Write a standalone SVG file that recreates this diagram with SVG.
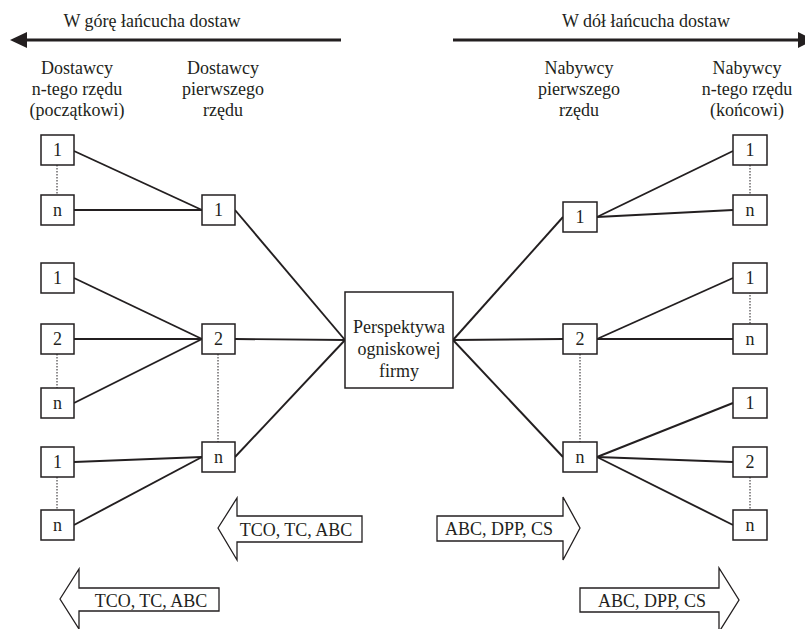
<svg xmlns="http://www.w3.org/2000/svg" width="805" height="629" viewBox="0 0 805 629">
<style>
text{font-family:"Liberation Serif","Times New Roman",serif;font-size:18px;fill:#231f20;text-anchor:middle}
.b{fill:#fff;stroke:#231f20;stroke-width:1.5}
.c line{stroke:#231f20;stroke-width:1.9}
.c line.d{stroke:#231f20;stroke-width:1;stroke-dasharray:1.5 1.5}
.ba{fill:#fff;stroke:#231f20;stroke-width:1.3}
</style>
<rect width="805" height="629" fill="#fff"/>
<g id="upstream-arrow">
<line x1="341" y1="40" x2="24" y2="40" stroke="#231f20" stroke-width="3"/>
<polygon points="10,40 27,32 27,48" fill="#231f20"/>
<text x="152" y="27">W górę łańcucha dostaw</text>
</g>
<g id="downstream-arrow">
<line x1="453" y1="40" x2="800" y2="40" stroke="#231f20" stroke-width="3"/>
<polygon points="814,40 798,32 798,48" fill="#231f20"/>
<text x="646" y="27">W dół łańcucha dostaw</text>
</g>
<g id="headers">
<text x="77" y="74">Dostawcy</text><text x="77" y="95">n-tego rzędu</text><text x="77" y="116">(początkowi)</text>
<text x="223" y="74">Dostawcy</text><text x="223" y="95">pierwszego</text><text x="223" y="116">rzędu</text>
<text x="579" y="74">Nabywcy</text><text x="579" y="95">pierwszego</text><text x="579" y="116">rzędu</text>
<text x="747" y="74">Nabywcy</text><text x="747" y="95">n-tego rzędu</text><text x="747" y="116">(końcowi)</text>
</g>
<g class="c" id="connectors">
<line x1="74" y1="151" x2="202" y2="210"/>
<line x1="74" y1="210" x2="202" y2="210"/>
<line x1="74" y1="278" x2="202" y2="339"/>
<line x1="74" y1="339" x2="202" y2="339"/>
<line x1="74" y1="403" x2="202" y2="339"/>
<line x1="74" y1="462" x2="202" y2="457"/>
<line x1="74" y1="525" x2="202" y2="457"/>
<line x1="235" y1="210" x2="345" y2="340"/>
<line x1="235" y1="339" x2="345" y2="340"/>
<line x1="235" y1="457" x2="345" y2="340"/>
<line x1="453" y1="340" x2="563" y2="217"/>
<line x1="453" y1="340" x2="563" y2="339"/>
<line x1="453" y1="340" x2="563" y2="457"/>
<line x1="597" y1="217" x2="733" y2="151"/>
<line x1="597" y1="217" x2="733" y2="210"/>
<line x1="597" y1="339" x2="733" y2="278"/>
<line x1="597" y1="339" x2="733" y2="339"/>
<line x1="597" y1="457" x2="733" y2="403"/>
<line x1="597" y1="457" x2="733" y2="462"/>
<line x1="597" y1="457" x2="733" y2="525"/>
<line class="d" x1="57" y1="165" x2="57" y2="195"/>
<line class="d" x1="57" y1="354" x2="57" y2="388"/>
<line class="d" x1="57" y1="477" x2="57" y2="510"/>
<line class="d" x1="218" y1="354" x2="218" y2="442"/>
<line class="d" x1="580" y1="354" x2="580" y2="442"/>
<line class="d" x1="750" y1="165" x2="750" y2="195"/>
<line class="d" x1="750" y1="292" x2="750" y2="324"/>
<line class="d" x1="750" y1="477" x2="750" y2="510"/>
</g>
<g id="s-n-1a"><rect class="b" x="41" y="135" width="33" height="30"/><text x="57.5" y="156">1</text></g>
<g id="s-n-na"><rect class="b" x="41" y="195" width="33" height="30"/><text x="57.5" y="216">n</text></g>
<g id="s-n-1b"><rect class="b" x="41" y="263" width="33" height="30"/><text x="57.5" y="284">1</text></g>
<g id="s-n-2b"><rect class="b" x="41" y="324" width="33" height="30"/><text x="57.5" y="345">2</text></g>
<g id="s-n-nb"><rect class="b" x="41" y="388" width="33" height="30"/><text x="57.5" y="409">n</text></g>
<g id="s-n-1c"><rect class="b" x="41" y="447" width="33" height="30"/><text x="57.5" y="468">1</text></g>
<g id="s-n-nc"><rect class="b" x="41" y="510" width="33" height="30"/><text x="57.5" y="531">n</text></g>
<g id="s-1-1"><rect class="b" x="202" y="195" width="33" height="30"/><text x="218.5" y="216">1</text></g>
<g id="s-1-2"><rect class="b" x="202" y="324" width="33" height="30"/><text x="218.5" y="345">2</text></g>
<g id="s-1-n"><rect class="b" x="202" y="442" width="33" height="30"/><text x="218.5" y="463">n</text></g>
<g id="focal"><rect class="b" x="345" y="292" width="108" height="96"/><text x="399" y="333">Perspektywa</text><text x="399" y="355">ogniskowej</text><text x="399" y="377">firmy</text></g>
<g id="b-1-1"><rect class="b" x="563" y="202" width="34" height="30"/><text x="580" y="223">1</text></g>
<g id="b-1-2"><rect class="b" x="563" y="324" width="34" height="30"/><text x="580" y="345">2</text></g>
<g id="b-1-n"><rect class="b" x="563" y="442" width="34" height="30"/><text x="580" y="463">n</text></g>
<g id="b-n-1a"><rect class="b" x="733" y="135" width="34" height="30"/><text x="750" y="156">1</text></g>
<g id="b-n-na"><rect class="b" x="733" y="195" width="34" height="30"/><text x="750" y="216">n</text></g>
<g id="b-n-1b"><rect class="b" x="733" y="263" width="34" height="30"/><text x="750" y="284">1</text></g>
<g id="b-n-nb"><rect class="b" x="733" y="324" width="34" height="30"/><text x="750" y="345">n</text></g>
<g id="b-n-1c"><rect class="b" x="733" y="388" width="34" height="30"/><text x="750" y="409">1</text></g>
<g id="b-n-2c"><rect class="b" x="733" y="447" width="34" height="30"/><text x="750" y="468">2</text></g>
<g id="b-n-nc"><rect class="b" x="733" y="510" width="34" height="30"/><text x="750" y="531">n</text></g>
<g id="arrow-tco-1"><path class="ba" d="M218,528 L237,498 L237,516 L362,516 L362,542 L237,542 L237,560 Z"/><text x="296" y="536">TCO, TC, ABC</text></g>
<g id="arrow-tco-2"><path class="ba" d="M60,599 L79,569 L79,588 L219,588 L219,611 L79,611 L79,629 Z"/><text x="151" y="607">TCO, TC, ABC</text></g>
<g id="arrow-abc-1"><path class="ba" d="M437,516 L563,516 L563,497 L580,528 L563,560 L563,541 L437,541 Z"/><text x="499" y="535">ABC, DPP, CS</text></g>
<g id="arrow-abc-2"><path class="ba" d="M580,588 L719,588 L719,568 L739,600 L719,632 L719,612 L580,612 Z"/><text x="652" y="607">ABC, DPP, CS</text></g>
</svg>
